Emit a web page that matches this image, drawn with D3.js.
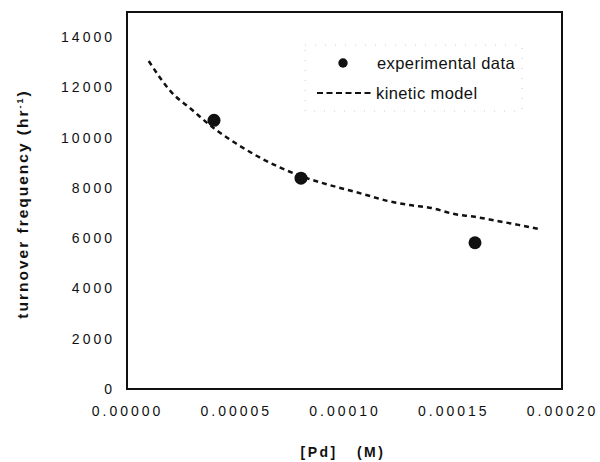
<!DOCTYPE html>
<html>
<head>
<meta charset="utf-8">
<script src="https://cdn.jsdelivr.net/npm/d3@7"></script>
<style>
  body { margin: 0; background: #fff; }
  .tick text { font-family: "Liberation Sans", Arial, sans-serif; font-size: 14px; letter-spacing: 3px; fill: #111; }
  .label { font-family: "Liberation Sans", Arial, sans-serif; font-weight: bold; font-size: 14px; fill: #111; }
  .legend { font-family: "Liberation Sans", Arial, sans-serif; font-size: 16.5px; letter-spacing: 0.4px; fill: #111; }
</style>
</head>
<body>
<svg width="600" height="462"></svg>
<script>
// experimental points
var expPd = [0.00004, 0.00008, 0.00016];
var expTof = [10690, 8390, 5820];

// kinetic model curve
var modelPd = [0.00001, 0.00002, 0.00003, 0.00004, 0.00005, 0.00006, 0.00007, 0.00008, 0.00009,
    0.00010, 0.000105, 0.00011, 0.00012, 0.00013, 0.00014, 0.00015, 0.00016, 0.00017, 0.00018, 0.000189];
var modelTof = [13050, 11850, 11100, 10370, 9775, 9260, 8826, 8470, 8190,
    7955, 7840, 7720, 7480, 7320, 7200, 6970, 6850, 6690, 6530, 6370];

var xTicks = [0, 0.00005, 0.0001, 0.00015, 0.0002];
var yTicks = [0, 2000, 4000, 6000, 8000, 10000, 12000, 14000];

var svg = d3.select('svg');

var x = d3.scaleLinear()
    .domain([0, 0.0002])
    .range([127, 562]);

var y = d3.scaleLinear()
    .domain([0, 15000])
    .range([389, 12]);

// frame
svg.append('rect')
    .attr('x', x(0))
    .attr('y', y(15000))
    .attr('width', x(0.0002) - x(0))
    .attr('height', y(0) - y(15000))
    .style('fill', 'none')
    .style('stroke', '#111')
    .style('stroke-width', 2);

var xAxis = d3.axisBottom(x)
    .tickValues(xTicks)
    .tickSize(0)
    .tickPadding(17)
    .tickFormat(d3.format('.5f'));

svg.append('g')
    .attr('class', 'x axis')
    .attr('transform', 'translate(0,' + y(0) + ')')
    .call(xAxis)
    .call(function(g){ g.select('.domain').remove(); });

var yAxis = d3.axisLeft(y)
    .tickValues(yTicks)
    .tickSize(0)
    .tickPadding(12)
    .tickFormat(d3.format('d'));

svg.append('g')
    .attr('class', 'y axis')
    .attr('transform', 'translate(' + x(0) + ',0)')
    .call(yAxis)
    .call(function(g){ g.select('.domain').remove(); });

// model line
var modelData = modelPd.map(function(d, i){ return { pd: d, tof: modelTof[i] }; });

svg.append('path')
    .datum(modelData)
    .attr('d', d3.line()
        .curve(d3.curveMonotoneX)
        .x(function(d){ return x(d.pd); })
        .y(function(d){ return y(d.tof); }))
    .style('fill', 'none')
    .style('stroke', '#111')
    .style('stroke-width', 2.5)
    .style('stroke-dasharray', '5,4');

// experimental dots
svg.selectAll('circle.exp')
    .data(expPd)
    .enter()
    .append('circle')
    .attr('class', 'exp')
    .attr('cx', function(d){ return x(d); })
    .attr('cy', function(d, i){ return y(expTof[i]); })
    .attr('r', 6.5)
    .style('fill', '#111');

// legend
var legend = svg.append('g');

legend.append('rect')
    .attr('x', 305)
    .attr('y', 45)
    .attr('width', 217)
    .attr('height', 66)
    .style('fill', 'none')
    .style('stroke', '#ccc')
    .style('stroke-width', 1)
    .style('stroke-dasharray', '1,9');

legend.append('circle')
    .attr('cx', 343)
    .attr('cy', 63)
    .attr('r', 4.7)
    .style('fill', '#111');

legend.append('text')
    .attr('class', 'legend')
    .attr('x', 377)
    .attr('y', 69)
    .text('experimental data');

legend.append('line')
    .attr('x1', 317)
    .attr('x2', 373)
    .attr('y1', 93)
    .attr('y2', 93)
    .style('stroke', '#111')
    .style('stroke-width', 2)
    .style('stroke-dasharray', '6,3.5');

legend.append('text')
    .attr('class', 'legend')
    .attr('x', 376)
    .attr('y', 99)
    .text('kinetic model');

// axis titles
svg.append('text')
    .attr('class', 'label')
    .attr('text-anchor', 'middle')
    .style('letter-spacing', '2.5px')
    .attr('transform', 'translate(343,457)')
    .text('[Pd]\u00a0\u00a0\u00a0(M)');

var yLabel = svg.append('text')
    .attr('class', 'label')
    .attr('text-anchor', 'middle')
    .style('letter-spacing', '2px')
    .style('font-size', '15.5px')
    .attr('transform', 'translate(28,204) rotate(-90)');

yLabel.append('tspan').text('turnover frequency (hr');
yLabel.append('tspan').attr('dy', -5).style('font-size', '9px').text('-1');
yLabel.append('tspan').attr('dy', 5).text(')');
</script>
</body>
</html>
